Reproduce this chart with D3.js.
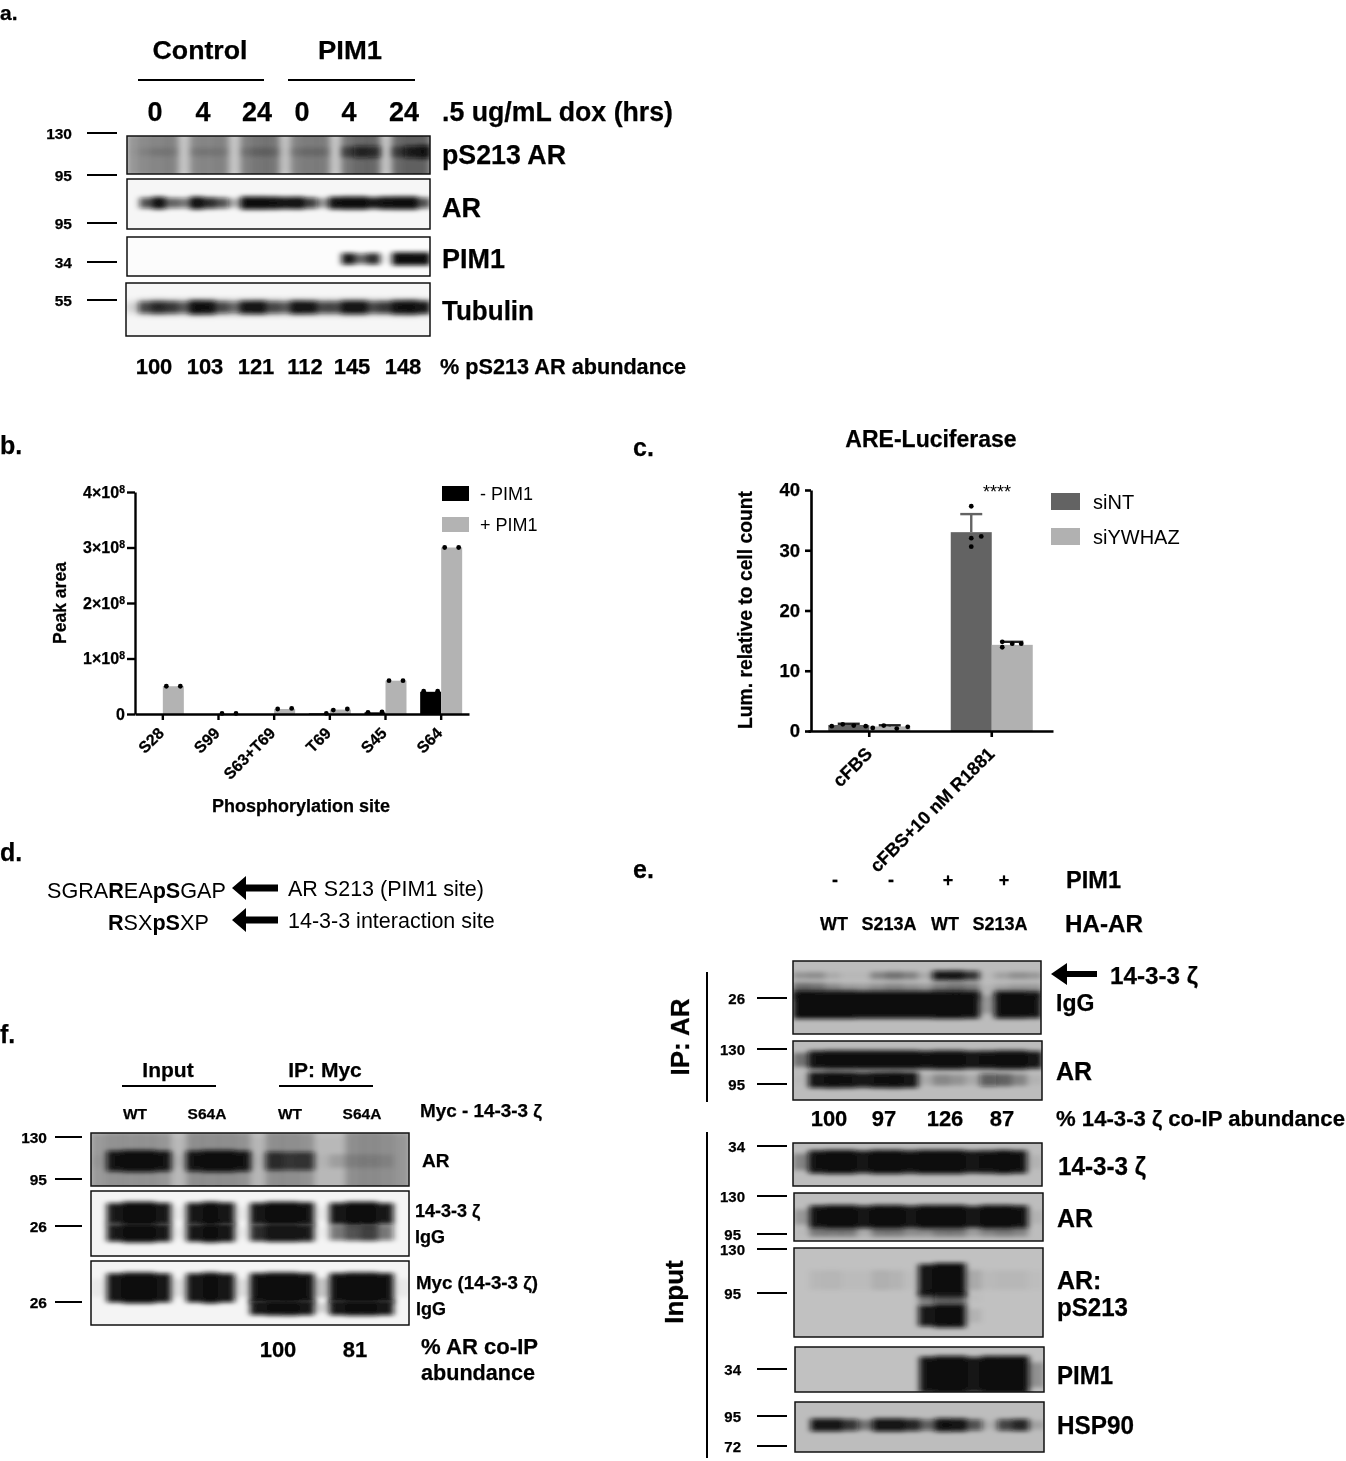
<!DOCTYPE html>
<html>
<head>
<meta charset="utf-8">
<script src="https://cdn.jsdelivr.net/npm/d3@7"></script>
<style>
  html, body { margin: 0; padding: 0; background: #fff; }
  text { font-family: "Liberation Sans", Arial, sans-serif; fill: #000; }
  text[font-weight="bold"] { stroke: #000; stroke-width: 0.25; }
</style>
</head>
<body>
<div id="figure"></div>
<script>
// panel b values (peak area)
var sites = ["S28", "S99", "S63+T69", "T69", "S45", "S64"];
var pimGroups = ["- PIM1", "+ PIM1"];
var minusPim = [0, 0, 0, 0.01e8, 0.03e8, 0.4e8];
var plusPim = [0.5e8, 0.005e8, 0.09e8, 0.08e8, 0.6e8, 3.0e8];
var minusPimPoints = [[0, 0], [0, 0], [0, 0], [0, 0.01e8], [0.03e8, 0.04e8], [0.41e8, 0.41e8]];
var plusPimPoints = [[0.5e8, 0.5e8], [0.01e8, 0.01e8], [0.09e8, 0.1e8], [0.07e8, 0.09e8], [0.6e8, 0.6e8], [3.0e8, 3.0e8]];
var peakTicks = [0, 1e8, 2e8, 3e8, 4e8];

// panel c values
var conditions = ["cFBS", "cFBS+10 nM R1881"];
var siRnas = ["siNT", "siYWHAZ"];
var siNT = [1.0, 33];
var siYWHAZ = [0.75, 14.3];
var siNTErr = [0.2, 3];
var siYWHAZErr = [0.2, 0.5];
var siNTPoints = [[0.8, 1.1, 0.9, 0.8], [37.3, 32.3, 32, 30.6]];
var siYWHAZPoints = [[0.5, 0.9, 0.4, 0.7], [14.8, 13.9, 14.5, 14.5]];
var lumTicks = [0, 10, 20, 30, 40];

// labels of the blots
var timeLabels = ["0", "4", "24", "0", "4", "24"];
var abundanceA = ["100", "103", "121", "112", "145", "148"];
var pimSigns = ["-", "-", "+", "+"];
var haLanes = ["WT", "S213A", "WT", "S213A"];
var abundanceE = ["100", "97", "126", "87"];
var mycLanes = ["WT", "S64A", "WT", "S64A"];
var abundanceF = ["100", "81"];

// band density across each membrane, one value per bin (0 = nothing, 1 = saturated)
var aPs213Smear = [.27, .33, .35, .37, .06, .34, .35, .37, .05, .38, .42, .42, .08, .37, .4, .4, .06, .42, .46, .46, .07, .46, .48, .48];
var aPs213Band = [.02, .08, .12, .1, 0, .12, .12, .1, 0, .14, .18, .16, .02, .14, .15, .15, 0, .45, .65, .6, .02, .45, .7, .85];
var aArBand = [0, .6, .9, .55, .5, .95, .7, .6, .3, 1, 1, .95, .85, .9, .65, .4, .9, 1, 1, .75, .95, 1, 1, .6];
var aPimBand = [0, 0, 0, 0, 0, 0, 0, 0, 0, 0, 0, 0, 0, 0, 0, 0, 0, .75, .55, .7, .05, 1, 1, 1];
var aTubulinBand = [.1, .6, .7, .65, .55, .95, .9, .6, .5, .8, .85, .6, .55, .85, .8, .6, .6, .85, .85, .6, .65, .9, .95, .75];
var aTubulinHalo = [.05, .15, .18, .16, .15, .2, .2, .16, .15, .18, .18, .16, .15, .18, .18, .16, .16, .2, .2, .16, .16, .2, .2, .16];
var eIgGBand = [1, 1, 1, 1, .95, .95, .95, .95, .95, 1, 1, .95, .2, .95, .95, .9];
var eIgGHalo = [.42, .4, .28, .2, .18, .25, .3, .25, .2, .35, .4, .35, .05, .15, .2, .2];
var eCoipBand = [.22, .25, .1, .03, .03, .3, .4, .32, .1, .75, .8, .65, .02, .15, .24, .2];
var eArUpper = [.4, .9, 1, 1, 1, 1, 1, 1, .9, 1, 1, .85, .9, 1, 1, .8];
var eArLower = [.02, .85, .95, .9, .75, .9, .95, .85, .1, .28, .22, .1, .5, .45, .3, .05];
var e1433Band = [.3, .9, 1, 1, .85, 1, 1, .9, 1, 1, 1, .85, .9, 1, .9, .06];
var eInputAr = [.2, .9, 1, 1, .85, 1, 1, .85, 1, 1, 1, .8, 1, 1, .9, .06];
var eInputArSmear = [.02, .36, .36, .36, .1, .36, .36, .26, .26, .36, .36, .18, .3, .36, .3, 0];
var ePs213Upper = [0, .05, .06, .03, .03, .09, .07, .02, .85, 1, 1, .12, .04, .05, .05, .02];
var ePs213Middle = [0, 0, 0, 0, 0, 0, 0, 0, .4, .5, .5, .02, 0, 0, 0, 0];
var ePs213Lower = [0, 0, 0, 0, 0, 0, 0, 0, .75, 1, 1, .08, 0, 0, 0, 0];
var ePimBand = [0, 0, 0, 0, 0, 0, 0, 0, .9, 1, 1, .85, 1, 1, 1, .25];
var eHspBand = [0, .8, .8, .65, .4, .85, .85, .7, .5, .9, .85, .55, .08, .6, .7, .15];
var fArSmear = [.2, .24, .24, .24, .22, .04, .26, .26, .26, .24, .05, .26, .26, .24, .04, .04, .26, .28, .26, .22];
var fArBand = [.04, .85, 1, 1, .85, .05, .85, 1, 1, .85, .03, .65, .6, .62, .03, .14, .12, .12, .1, 0];
var f1433Upper = [0, .75, 1, 1, .8, .05, .8, 1, .85, .05, .8, 1, 1, .9, .05, .8, 1, 1, .75, 0];
var f1433Lower = [0, .75, 1, 1, .8, .05, .8, 1, .85, .05, .7, .85, .85, .75, .03, .5, .6, .65, .5, 0];
var fMycUpper = [.05, .85, 1, 1, .85, .1, .85, 1, .85, .1, .9, 1, 1, .9, .2, .9, 1, 1, .9, .05];
var fMycLower = [0, 0, 0, 0, 0, 0, 0, 0, 0, 0, .8, .95, 1, .85, .15, .85, 1, 1, .85, 0];

var svgWidth = 1346;
var svgHeight = 1461;

var svg = d3.select("#figure")
  .append("svg")
  .attr("width", svgWidth)
  .attr("height", svgHeight)
  .style("display", "block");

var defs = svg.append("defs");

defs.append("filter")
  .attr("id", "soft")
  .attr("x", "-2%").attr("y", "-2%").attr("width", "104%").attr("height", "104%")
  .append("feGaussianBlur")
  .attr("stdDeviation", 0.45);

defs.append("filter")
  .attr("id", "band")
  .attr("x", "-10%").attr("y", "-60%").attr("width", "120%").attr("height", "220%")
  .append("feGaussianBlur")
  .attr("stdDeviation", "3 1.9");

// darkness of a bin, saturates before the density reaches 1
var density = d3.scaleLinear().domain([0, 0.4, 0.75, 1]).range([0, 0.4, 0.95, 1]);

var root = svg.append("g").attr("filter", "url(#soft)");

function label(x, y, str, size, anchor, weight, width) {
  var t = root.append("text")
    .attr("x", x)
    .attr("y", y)
    .attr("dominant-baseline", "central")
    .attr("font-size", size)
    .attr("font-weight", weight || "bold")
    .attr("text-anchor", anchor || "start")
    .text(str);
  if (width) {
    t.attr("textLength", width).attr("lengthAdjust", "spacingAndGlyphs");
  }
  return t;
}

function rule(x1, y1, x2, y2, w, color) {
  root.append("line")
    .attr("x1", x1).attr("y1", y1)
    .attr("x2", x2).attr("y2", y2)
    .attr("stroke", color || "#000")
    .attr("stroke-width", w || 2);
}

function arrow(xTip, xEnd, y, headLen, headHalf, shaft) {
  var path = d3.path();
  path.moveTo(xTip, y);
  path.lineTo(xTip + headLen, y - headHalf);
  path.lineTo(xTip + headLen, y - shaft / 2);
  path.lineTo(xEnd, y - shaft / 2);
  path.lineTo(xEnd, y + shaft / 2);
  path.lineTo(xTip + headLen, y + shaft / 2);
  path.lineTo(xTip + headLen, y + headHalf);
  path.closePath();
  root.append("path").attr("d", path.toString()).attr("fill", "#000");
}

// ladder mark: size text and a short rule
function ladder(textEnd, x1, x2, y, str, size) {
  label(textEnd, y, str, size || 15.5, "end");
  rule(x1, y, x2, y, 2);
}

var clipCount = 0;

// one membrane: a grey box with rows of blurred band density
function blot(p) {
  clipCount += 1;
  var clipId = "clip" + clipCount;
  defs.append("clipPath").attr("id", clipId)
    .append("rect")
    .attr("x", p.x).attr("y", p.y)
    .attr("width", p.w).attr("height", p.h);

  root.append("rect")
    .attr("x", p.x).attr("y", p.y)
    .attr("width", p.w).attr("height", p.h)
    .attr("fill", p.bg);

  var g = root.append("g").attr("clip-path", "url(#" + clipId + ")");

  p.rows.forEach(function(row) {
    var binX = d3.scaleBand()
      .domain(d3.range(row.values.length))
      .range([p.x, p.x + p.w]);
    var thick = d3.scaleLinear().domain([0, 1]).range([row.h * 0.55, row.h]);

    g.append("g")
      .attr("filter", "url(#band)")
      .selectAll("rect")
      .data(row.values)
      .enter()
      .append("rect")
      .attr("x", function(d, i) { return binX(i); })
      .attr("width", binX.bandwidth() + 0.5)
      .attr("y", function(d) { return p.y + p.h * row.at - thick(d) / 2; })
      .attr("height", function(d) { return thick(d); })
      .attr("fill", "#0c0c0c")
      .attr("fill-opacity", function(d) { return density(d); });
  });

  root.append("rect")
    .attr("x", p.x).attr("y", p.y)
    .attr("width", p.w).attr("height", p.h)
    .attr("fill", "none")
    .attr("stroke", "#111")
    .attr("stroke-width", 1.5);
}

// ---------- panel letters
label(0, 12, "a.", 21);
label(0, 445, "b.", 25);
label(633, 447, "c.", 25);
label(0, 852, "d.", 25);
label(633, 869, "e.", 25);
label(0, 1034, "f.", 25);

// ---------- panel a
label(200, 50, "Control", 26, "middle", "bold", 95);
label(350, 50, "PIM1", 26, "middle", "bold", 64);
rule(138, 80, 264, 80);
rule(288, 80, 415, 80);

var timeX = [155, 203, 257, 302, 349, 404];
timeLabels.forEach(function(d, i) { label(timeX[i], 112, d, 27, "middle"); });
label(442, 112, ".5 ug/mL dox (hrs)", 27, "start", "bold", 231);

ladder(72, 87, 117, 133, "130");
ladder(72, 87, 117, 175, "95");
ladder(72, 87, 117, 223, "95");
ladder(72, 87, 117, 262, "34");
ladder(72, 87, 117, 300, "55");

blot({ x: 127, y: 136, w: 303, h: 38, bg: "#cfcfcf", rows: [
  { at: 0.5, h: 60, values: aPs213Smear },
  { at: 0.42, h: 14, values: aPs213Band }
] });
blot({ x: 127, y: 179, w: 303, h: 50, bg: "#f6f6f6", rows: [
  { at: 0.48, h: 13, values: aArBand }
] });
blot({ x: 127, y: 237, w: 303, h: 39, bg: "#fcfcfc", rows: [
  { at: 0.56, h: 13, values: aPimBand }
] });
blot({ x: 126, y: 283, w: 304, h: 53, bg: "#f6f6f6", rows: [
  { at: 0.46, h: 30, values: aTubulinHalo },
  { at: 0.46, h: 14, values: aTubulinBand }
] });

label(442, 155, "pS213 AR", 27, "start", "bold", 124);
label(442, 208, "AR", 27);
label(442, 259, "PIM1", 27, "start", "bold", 63);
label(442, 311, "Tubulin", 27, "start", "bold", 92);

var abundanceAX = [154, 205, 256, 305, 352, 403];
abundanceA.forEach(function(d, i) { label(abundanceAX[i], 366.5, d, 22, "middle"); });
label(440, 366.5, "% pS213 AR abundance", 22, "start", "bold", 246);

// ---------- panel b
var bX = d3.scaleBand().domain(sites).range([135, 469]);
var bInner = d3.scaleBand().domain(pimGroups).range([-21, 21]);
var bY = d3.scaleLinear().domain([0, 4e8]).range([714, 492]);

var bGroup = root.append("g");

pimGroups.forEach(function(group, g) {
  var values = g === 0 ? minusPim : plusPim;
  var points = g === 0 ? minusPimPoints : plusPimPoints;
  var color = g === 0 ? "#000" : "#b3b3b3";

  bGroup.append("g").selectAll("rect")
    .data(sites)
    .enter()
    .append("rect")
    .attr("x", function(d) { return bX(d) + bX.bandwidth() / 2 + bInner(group); })
    .attr("width", bInner.bandwidth())
    .attr("y", function(d, i) { return bY(values[i]); })
    .attr("height", function(d, i) { return bY(0) - bY(values[i]); })
    .attr("fill", color);

  sites.forEach(function(site, i) {
    points[i].forEach(function(v, k) {
      // nothing was plotted where the first series is empty
      if (v === 0) return;
      bGroup.append("circle")
        .attr("cx", bX(site) + bX.bandwidth() / 2 + bInner(group) + bInner.bandwidth() / 2 + (k === 0 ? -7 : 7))
        .attr("cy", bY(v))
        .attr("r", 2.4)
        .attr("fill", "#000");
    });
  });
});

var bLeftAxis = d3.axisLeft(bY)
  .tickValues(peakTicks)
  .tickSize(8)
  .tickSizeOuter(0)
  .tickPadding(2)
  .tickFormat(function(d) { return d === 0 ? "0" : (d / 1e8) + "×10"; });

var bLeft = root.append("g")
  .attr("transform", "translate(135,0)")
  .call(bLeftAxis);

bLeft.selectAll("text")
  .attr("font-size", 16)
  .attr("font-weight", "bold")
  .attr("font-family", null)
  .each(function(d) {
    if (d !== 0) {
      d3.select(this).append("tspan")
        .attr("dy", "-0.45em")
        .attr("font-size", 10.5)
        .text("8");
    }
  });

var bBottom = root.append("g")
  .attr("transform", "translate(0,714)")
  .call(d3.axisBottom(bX).tickSize(6).tickSizeOuter(0).tickPadding(5));

bBottom.selectAll("text")
  .attr("font-size", 16)
  .attr("font-weight", "bold")
  .attr("font-family", null)
  .attr("text-anchor", "end")
  .attr("x", -4)
  .attr("y", 14)
  .attr("dx", 0)
  .attr("dy", "0.55em")
  .attr("transform", "rotate(-45 -4 14)");

[bLeft, bBottom].forEach(function(a) {
  a.selectAll("path, line").attr("stroke", "#000").attr("stroke-width", 2.4);
});

label(60, 603, "Peak area", 17.5).attr("text-anchor", "middle").attr("transform", "rotate(-90 60 603)");
label(301, 806, "Phosphorylation site", 18, "middle");

root.append("rect").attr("x", 442).attr("y", 486).attr("width", 27).attr("height", 15).attr("fill", "#000");
root.append("rect").attr("x", 442).attr("y", 517).attr("width", 27).attr("height", 15).attr("fill", "#b3b3b3");
label(480, 494, pimGroups[0], 18, "start", "normal");
label(480, 525, pimGroups[1], 18, "start", "normal");

// ---------- panel c
label(931, 439, "ARE-Luciferase", 23, "middle");

var cX = d3.scaleBand().domain(conditions).range([808, 1053]);
var cInner = d3.scaleBand().domain(siRnas).range([-41, 41]);
var cY = d3.scaleLinear().domain([0, 40]).range([731, 490]);
var cColors = ["#636363", "#b1b1b1"];
// horizontal place of each dot inside its bar
var cDotSpread = [[-17, -6, 5, 17], [0, 10, 0, 0]];
var cDotSpreadB = [[-17, -6, 7, 18], [-10, -10, 0, 9]];

siRnas.forEach(function(name, s) {
  var values = s === 0 ? siNT : siYWHAZ;
  var errs = s === 0 ? siNTErr : siYWHAZErr;
  var points = s === 0 ? siNTPoints : siYWHAZPoints;
  var spread = s === 0 ? cDotSpread : cDotSpreadB;

  function mid(cond) { return cX(cond) + cX.bandwidth() / 2 + cInner(name) + cInner.bandwidth() / 2; }

  root.append("g").selectAll("rect")
    .data(conditions)
    .enter()
    .append("rect")
    .attr("x", function(d) { return mid(d) - cInner.bandwidth() / 2; })
    .attr("width", cInner.bandwidth())
    .attr("y", function(d, i) { return cY(values[i]); })
    .attr("height", function(d, i) { return cY(0) - cY(values[i]); })
    .attr("fill", cColors[s]);

  conditions.forEach(function(cond, i) {
    var top = cY(values[i] + errs[i]);
    var errColor = i === 1 && s === 0 ? cColors[0] : "#222";
    rule(mid(cond), cY(values[i]), mid(cond), top, 2.4, errColor);
    rule(mid(cond) - 11, top, mid(cond) + 11, top, 2.4, errColor);
    points[i].forEach(function(v, k) {
      root.append("circle")
        .attr("cx", mid(cond) + spread[i][k])
        .attr("cy", cY(v))
        .attr("r", 2.4)
        .attr("fill", "#000");
    });
  });
});

var cLeft = root.append("g")
  .attr("transform", "translate(811,0)")
  .call(d3.axisLeft(cY).tickValues(lumTicks).tickSize(6).tickSizeOuter(0).tickPadding(5));

cLeft.selectAll("text")
  .attr("font-size", 18.5)
  .attr("font-weight", "bold")
  .attr("font-family", null);

var cBottom = root.append("g")
  .attr("transform", "translate(0,731)")
  .call(d3.axisBottom(cX).tickSize(6).tickSizeOuter(0).tickPadding(5));

cBottom.selectAll("text")
  .attr("font-size", 18.2)
  .attr("font-weight", "bold")
  .attr("font-family", null)
  .attr("text-anchor", "end")
  .attr("x", -5)
  .attr("y", 15)
  .attr("dx", 0)
  .attr("dy", "0.7em")
  .attr("transform", "rotate(-45 -5 15)");

[cLeft, cBottom].forEach(function(a) {
  a.selectAll("path, line").attr("stroke", "#000").attr("stroke-width", 2.6);
});

label(997, 492, "****", 18, "middle", "normal");
label(745, 610, "Lum. relative to cell count", 19.3, "middle").attr("transform", "rotate(-90 745 610)");

root.append("rect").attr("x", 1051).attr("y", 493).attr("width", 29).attr("height", 17).attr("fill", cColors[0]);
root.append("rect").attr("x", 1051).attr("y", 528).attr("width", 29).attr("height", 17).attr("fill", cColors[1]);
label(1093, 502, siRnas[0], 20, "start", "normal");
label(1093, 537, siRnas[1], 20, "start", "normal");

// ---------- panel d
var seqA = label(47, 890, "", 21.6, "start", "normal");
seqA.append("tspan").text("SGRA");
seqA.append("tspan").attr("font-weight", "bold").text("R");
seqA.append("tspan").text("EA");
seqA.append("tspan").attr("font-weight", "bold").text("pS");
seqA.append("tspan").text("GAP");

var seqB = label(108, 922, "", 21.6, "start", "normal");
seqB.append("tspan").attr("font-weight", "bold").text("R");
seqB.append("tspan").text("SX");
seqB.append("tspan").attr("font-weight", "bold").text("pS");
seqB.append("tspan").text("XP");

arrow(232, 278, 888, 14, 12, 7);
arrow(232, 278, 920, 14, 12, 7);
label(288, 889, "AR S213 (PIM1 site)", 21.5, "start", "normal");
label(288, 921, "14-3-3 interaction site", 21.5, "start", "normal");

// ---------- panel e
var signX = [835, 891, 948, 1004];
pimSigns.forEach(function(d, i) { label(signX[i], 880, d, 18, "middle"); });
label(1066, 880, "PIM1", 23, "start", "bold", 55);

var haX = [834, 889, 945, 1000];
haLanes.forEach(function(d, i) { label(haX[i], 924, d, 18, "middle"); });
label(1065, 924, "HA-AR", 23, "start", "bold", 78);

blot({ x: 793, y: 961, w: 248, h: 73, bg: "#bcbcbc", rows: [
  { at: 0.42, h: 24, values: eIgGHalo },
  { at: 0.2, h: 11, values: eCoipBand },
  { at: 0.6, h: 28, values: eIgGBand }
] });
blot({ x: 793, y: 1041, w: 249, h: 59, bg: "#bcbcbc", rows: [
  { at: 0.32, h: 19, values: eArUpper },
  { at: 0.66, h: 17, values: eArLower }
] });
blot({ x: 793, y: 1143, w: 249, h: 43, bg: "#bdbdbd", rows: [
  { at: 0.44, h: 24, values: e1433Band }
] });
blot({ x: 794, y: 1193, w: 249, h: 48, bg: "#bdbdbd", rows: [
  { at: 0.5, h: 24, values: eInputAr },
  { at: 0.82, h: 12, values: eInputArSmear }
] });
blot({ x: 794, y: 1248, w: 249, h: 89, bg: "#c1c1c1", rows: [
  { at: 0.36, h: 34, values: ePs213Upper },
  { at: 0.56, h: 16, values: ePs213Middle },
  { at: 0.76, h: 24, values: ePs213Lower }
] });
blot({ x: 795, y: 1347, w: 249, h: 45, bg: "#c1c1c1", rows: [
  { at: 0.62, h: 38, values: ePimBand }
] });
blot({ x: 795, y: 1402, w: 249, h: 50, bg: "#bdbdbd", rows: [
  { at: 0.46, h: 14, values: eHspBand }
] });

ladder(745, 757, 787, 998, "26", 15);
ladder(745, 757, 787, 1049, "130", 15);
ladder(745, 757, 787, 1084, "95", 15);
ladder(745, 757, 787, 1146, "34", 15);
ladder(745, 757, 787, 1196, "130", 15);
ladder(741, 757, 787, 1234, "95", 15);
ladder(745, 757, 787, 1249, "130", 15);
ladder(741, 757, 787, 1293, "95", 15);
ladder(741, 757, 787, 1369, "34", 15);
ladder(741, 757, 787, 1416, "95", 15);
ladder(741, 757, 787, 1446, "72", 15);

rule(707, 972, 707, 1102, 2);
rule(707, 1132, 707, 1458, 2);
label(680, 1037, "IP: AR", 26, "middle").attr("transform", "rotate(-90 680 1037)");
label(674, 1292, "Input", 26, "middle").attr("transform", "rotate(-90 674 1292)");

arrow(1051, 1097, 974, 16, 11, 6);
label(1110, 975, "14-3-3 ζ", 24, "start", "bold", 88);
label(1056, 1003, "IgG", 23);
label(1056, 1071, "AR", 25);

var abundanceEX = [829, 884, 945, 1002];
abundanceE.forEach(function(d, i) { label(abundanceEX[i], 1118.5, d, 22, "middle"); });
label(1056, 1118.5, "% 14-3-3 ζ co-IP abundance", 22, "start", "bold", 289);

label(1058, 1166, "14-3-3 ζ", 25, "start", "bold", 88);
label(1057, 1218, "AR", 25);
label(1057, 1280, "AR:", 25);
label(1057, 1307, "pS213", 25, "start", "bold", 71);
label(1057, 1375, "PIM1", 25, "start", "bold", 56);
label(1057, 1425, "HSP90", 25, "start", "bold", 77);

// ---------- panel f
label(168, 1069, "Input", 21, "middle");
rule(122, 1086, 216, 1086);
label(325, 1069, "IP: Myc", 21, "middle");
rule(279, 1086, 373, 1086);

var mycX = [135, 207, 290, 362];
mycLanes.forEach(function(d, i) { label(mycX[i], 1113, d, 15.5, "middle"); });
label(420, 1111, "Myc - 14-3-3 ζ", 18, "start", "bold", 122);

blot({ x: 91, y: 1133, w: 318, h: 53, bg: "#c0c0c0", rows: [
  { at: 0.55, h: 90, values: fArSmear },
  { at: 0.53, h: 22, values: fArBand }
] });
blot({ x: 91, y: 1191, w: 318, h: 65, bg: "#f4f4f4", rows: [
  { at: 0.35, h: 24, values: f1433Upper },
  { at: 0.64, h: 20, values: f1433Lower }
] });
blot({ x: 91, y: 1261, w: 318, h: 64, bg: "#f4f4f4", rows: [
  { at: 0.42, h: 31, values: fMycUpper },
  { at: 0.73, h: 16, values: fMycLower }
] });

ladder(47, 55, 82, 1137, "130");
ladder(47, 55, 82, 1179, "95");
ladder(47, 55, 82, 1226, "26");
ladder(47, 55, 82, 1302, "26");

label(422, 1160, "AR", 19);
label(415, 1211, "14-3-3 ζ", 18);
label(415, 1237, "IgG", 18);
label(416, 1283, "Myc (14-3-3 ζ)", 18, "start", "bold", 122);
label(416, 1309, "IgG", 18);

var abundanceFX = [278, 355];
abundanceF.forEach(function(d, i) { label(abundanceFX[i], 1349.5, d, 22, "middle"); });
label(421, 1346, "% AR co-IP", 22, "start", "bold", 117);
label(421, 1372, "abundance", 22, "start", "bold", 114);
</script>
</body>
</html>
